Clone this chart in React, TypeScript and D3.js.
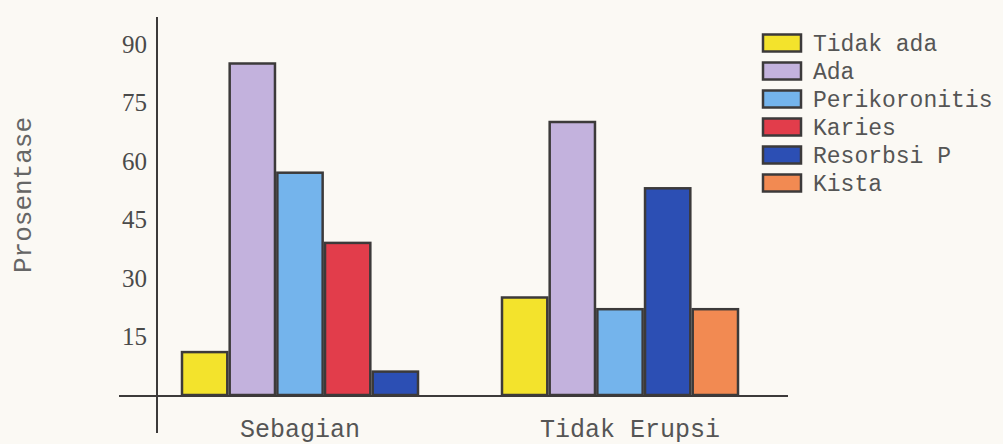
import React from "react";
import * as d3 from "d3";

const categories = ["Sebagian", "Tidak Erupsi"];
const seriesNames = ["Tidak ada", "Ada", "Perikoronitis", "Karies", "Resorbsi P", "Kista"];
const seriesColors = ["#f3e32c", "#c3b2dd", "#74b4ec", "#e23d4b", "#2c4fb4", "#f28a52"];
const sebagianValues = [11, 85, 57, 39, 6, 0];
const tidakErupsiValues = [25, 70, 22, 0, 53, 22];
const yTicks = [15, 30, 45, 60, 75, 90];

const W = 1003;
const H = 444;
const mono = "'Courier New', 'Liberation Mono', monospace";
const serif = "'Times New Roman', 'Liberation Serif', serif";
const ink = "#3c3a3a";

export default function App() {
  const groupValues = [sebagianValues, tidakErupsiValues];

  const y = d3.scaleLinear().domain([0, 90]).range([395, 44]);
  const x0 = d3.scaleBand<string>().domain(categories).range([140, 780]);
  const groupSpan = 236;

  const bars = categories.flatMap((cat, gi) => {
    const present = seriesNames.filter((_, si) => groupValues[gi][si] > 0);
    const cx = (x0(cat) ?? 0) + x0.bandwidth() / 2;
    const x1 = d3
      .scaleBand<string>()
      .domain(present)
      .range([cx - groupSpan / 2, cx + groupSpan / 2])
      .paddingInner(0.05);
    return present.map((name) => {
      const si = seriesNames.indexOf(name);
      const v = groupValues[gi][si];
      return {
        key: `${cat}-${name}`,
        x: x1(name) ?? 0,
        w: x1.bandwidth(),
        y: y(v),
        h: y(0) - y(v),
        color: seriesColors[si],
      };
    });
  });

  const legendY = d3
    .scalePoint<string>()
    .domain(seriesNames)
    .range([43, 183]);

  return (
    <svg
      width={W}
      height={H}
      style={{ position: "absolute", left: 0, top: 0, background: "#fbf9f4" }}
    >
      <rect x={0} y={0} width={W} height={H} fill="#fbf9f4" />

      {/* axes */}
      <line x1={157} x2={157} y1={17} y2={433} stroke={ink} strokeWidth={2} />
      <line x1={119} x2={788} y1={y(0) + 1} y2={y(0) + 1} stroke={ink} strokeWidth={2} />

      {yTicks.map((t) => (
        <text
          key={t}
          x={147}
          y={y(t)}
          dy="0.35em"
          textAnchor="end"
          fontFamily={serif}
          fontSize={25}
          fill="#4a4a4a"
        >
          {t}
        </text>
      ))}

      <text
        transform="translate(22,195) rotate(-90)"
        textAnchor="middle"
        dy="0.35em"
        fontFamily={mono}
        fontSize={26}
        fill="#666"
      >
        Prosentase
      </text>

      {bars.map((b) => (
        <rect
          key={b.key}
          x={b.x}
          y={b.y}
          width={b.w}
          height={b.h}
          fill={b.color}
          stroke={ink}
          strokeWidth={2.5}
        />
      ))}

      {categories.map((c, i) => (
        <text
          key={c}
          x={(x0(c) ?? 0) + x0.bandwidth() / 2 + i * 10}
          y={437}
          textAnchor="middle"
          fontFamily={mono}
          fontSize={25}
          fill="#555"
        >
          {c}
        </text>
      ))}

      {seriesNames.map((name, i) => {
        const cy = legendY(name) ?? 0;
        return (
          <g key={name}>
            <rect
              x={763}
              y={cy - 8.5}
              width={38}
              height={17}
              fill={seriesColors[i]}
              stroke={ink}
              strokeWidth={2.5}
            />
            <text
              x={813}
              y={cy}
              dy="0.35em"
              fontFamily={mono}
              fontSize={23}
              fill="#555"
            >
              {name}
            </text>
          </g>
        );
      })}
    </svg>
  );
}
